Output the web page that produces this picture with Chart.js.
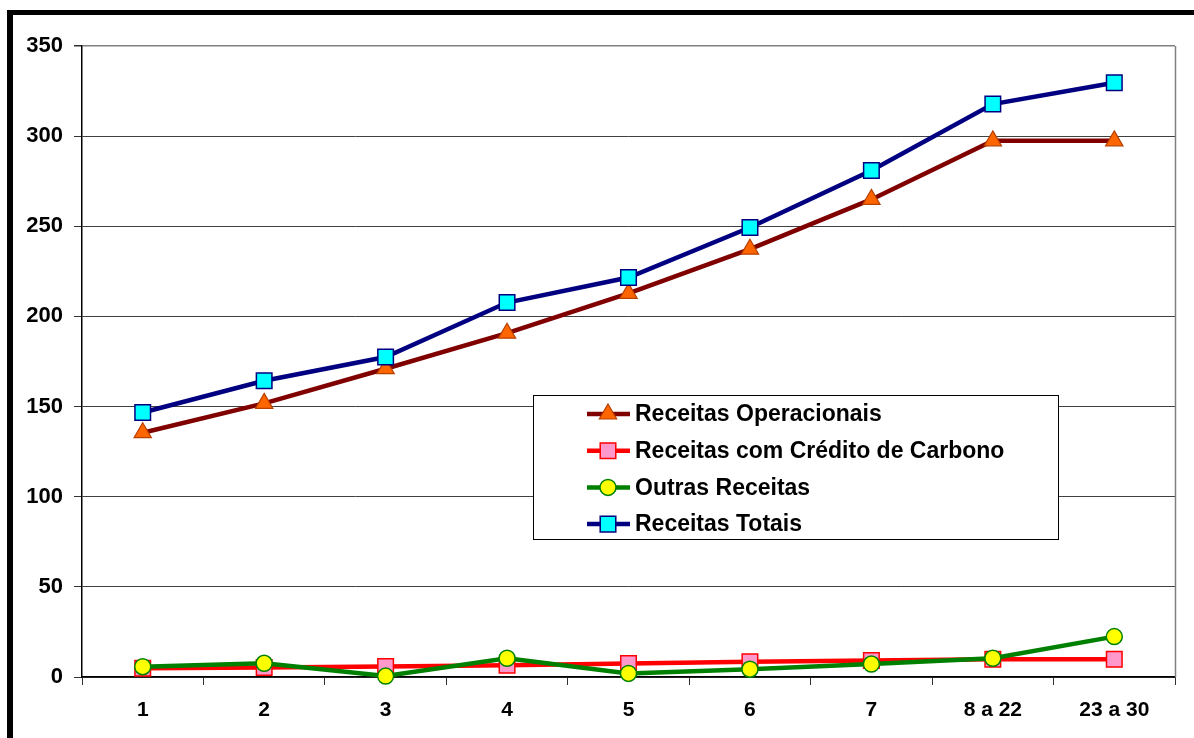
<!DOCTYPE html>
<html>
<head>
<meta charset="utf-8">
<script src="https://cdn.jsdelivr.net/npm/chart.js@4/dist/chart.umd.min.js"></script>
<style>
    html, body { margin: 0; padding: 0; background: #fff; overflow: hidden; }
    #wrap { position: relative; width: 1194px; height: 738px; }
    #chart { position: absolute; left: 0; top: 0; }
    #frame {
        position: absolute; left: 7px; top: 10px; width: 2000px; height: 2000px;
        border-left: 6px solid #000; border-top: 5px solid #000; pointer-events: none;
    }
</style>
</head>
<body>
<div id="wrap">
    <canvas id="chart" width="1194" height="738"></canvas>
    <div id="frame"></div>
</div>
<script>
// dados do gráfico
const periodos = ['1', '2', '3', '4', '5', '6', '7', '8 a 22', '23 a 30'];
const receitasOperacionais = [135.5, 151.8, 171.0, 190.7, 212.8, 237.3, 264.9, 297.4, 297.4];
const receitasCarbono = [4.8, 5.3, 5.8, 6.5, 7.5, 8.4, 9.2, 9.8, 9.8];
const outrasReceitas = [5.7, 7.6, 0.5, 10.4, 2.0, 4.3, 7.2, 10.4, 22.4];
const receitasTotais = [146.7, 164.3, 177.5, 207.7, 221.6, 249.3, 280.9, 317.8, 329.6];
const yTicks = [0, 50, 100, 150, 200, 250, 300, 350];

const familia = '"Liberation Sans", Arial, sans-serif';

// desenha o marcador da legenda
function drawMarker(ctx, ds, x, y) {
    const r = ds.pointRadius;
    ctx.save();
    ctx.fillStyle = ds.pointBackgroundColor;
    ctx.strokeStyle = ds.pointBorderColor;
    ctx.lineWidth = ds.pointBorderWidth;
    ctx.beginPath();
    if (ds.pointStyle === 'triangle') {
        ctx.moveTo(x, y - r);
        ctx.lineTo(x + r * 0.866, y + r / 2);
        ctx.lineTo(x - r * 0.866, y + r / 2);
        ctx.closePath();
    } else if (ds.pointStyle === 'rect') {
        const s = r * Math.SQRT1_2;
        ctx.rect(x - s, y - s, 2 * s, 2 * s);
    } else {
        ctx.arc(x, y, r, 0, Math.PI * 2);
    }
    ctx.fill();
    ctx.stroke();
    ctx.restore();
}

// legenda em caixa dentro da área do gráfico
const legendaBox = {
    id: 'legendaBox',
    afterDatasetsDraw(chart) {
        const ctx = chart.ctx;
        ctx.save();
        ctx.fillStyle = '#fff';
        ctx.fillRect(533, 395, 526, 145);
        ctx.strokeStyle = '#000';
        ctx.lineWidth = 1;
        ctx.strokeRect(533.5, 395.5, 525, 144);
        chart.data.datasets.forEach((ds, i) => {
            const y = 414 + i * 36.7;
            ctx.strokeStyle = ds.borderColor;
            ctx.lineWidth = ds.borderWidth;
            ctx.beginPath();
            ctx.moveTo(587, y);
            ctx.lineTo(630, y);
            ctx.stroke();
            drawMarker(ctx, ds, 608, y);
            ctx.fillStyle = '#000';
            ctx.font = 'bold 23px ' + familia;
            ctx.textBaseline = 'middle';
            ctx.textAlign = 'left';
            ctx.fillText(ds.label, 635, y + 1);
        });
        ctx.restore();
    }
};

// borda cinza do lado direito da área de plotagem
const bordaArea = {
    id: 'bordaArea',
    beforeDatasetsDraw(chart) {
        const a = chart.chartArea;
        const ctx = chart.ctx;
        ctx.save();
        ctx.strokeStyle = '#808080';
        ctx.lineWidth = 1.5;
        ctx.beginPath();
        ctx.moveTo(Math.round(a.right) + 0.5, a.top);
        ctx.lineTo(Math.round(a.right) + 0.5, a.bottom);
        ctx.stroke();
        ctx.restore();
    }
};

const ctx = document.getElementById('chart');
new Chart(ctx, {
    type: 'line',
    data: {
        labels: periodos,
        datasets: [
            {
                label: 'Receitas Operacionais',
                data: receitasOperacionais,
                borderColor: '#800000',
                borderWidth: 4.5,
                pointStyle: 'triangle',
                pointRadius: 10,
                pointBackgroundColor: '#FF6600',
                pointBorderColor: '#B84000',
                pointBorderWidth: 1.2,
                order: 4
            },
            {
                label: 'Receitas com Crédito de Carbono',
                data: receitasCarbono,
                borderColor: '#FF0000',
                borderWidth: 4.5,
                pointStyle: 'rect',
                pointRadius: 11,
                pointBackgroundColor: '#FF99CC',
                pointBorderColor: '#FF0000',
                pointBorderWidth: 1.5,
                order: 3
            },
            {
                label: 'Outras Receitas',
                data: outrasReceitas,
                borderColor: '#008000',
                borderWidth: 4.5,
                pointStyle: 'circle',
                pointRadius: 8,
                pointBackgroundColor: '#FFFF00',
                pointBorderColor: '#008000',
                pointBorderWidth: 1.5,
                order: 2
            },
            {
                label: 'Receitas Totais',
                data: receitasTotais,
                borderColor: '#000080',
                borderWidth: 4.5,
                pointStyle: 'rect',
                pointRadius: 11,
                pointBackgroundColor: '#00FFFF',
                pointBorderColor: '#000080',
                pointBorderWidth: 1.5,
                order: 1
            }
        ]
    },
    options: {
        responsive: false,
        animation: false,
        devicePixelRatio: 1,
        clip: false,
        layout: { padding: { top: 46, right: 19, left: 0, bottom: 0 } },
        elements: { line: { tension: 0 } },
        plugins: {
            legend: { display: false },
            tooltip: { enabled: false }
        },
        scales: {
            x: {
                offset: true,
                afterFit: s => { s.height = 61; },
                grid: {
                    offset: true,
                    drawOnChartArea: false,
                    drawTicks: true,
                    tickLength: 8,
                    tickColor: '#333'
                },
                border: { color: '#000', width: 1.5 },
                ticks: {
                    color: '#000',
                    font: { family: familia, size: 21, weight: 'bold' },
                    padding: 13,
                    maxRotation: 0
                }
            },
            y: {
                min: 0,
                max: 350,
                afterFit: s => { s.width = 82; },
                afterBuildTicks: s => { s.ticks = yTicks.map(v => ({ value: v })); },
                grid: {
                    color: c => c.tick && c.tick.value === 350 ? '#808080' : '#404040',
                    lineWidth: c => c.tick && c.tick.value === 350 ? 1.5 : 1,
                    tickLength: 8,
                    tickColor: '#333'
                },
                border: { color: '#000', width: 1.5 },
                ticks: {
                    color: '#000',
                    font: { family: familia, size: 22, weight: 'bold' },
                    padding: 11
                }
            }
        }
    },
    plugins: [bordaArea, legendaBox]
});
</script>
</body>
</html>
